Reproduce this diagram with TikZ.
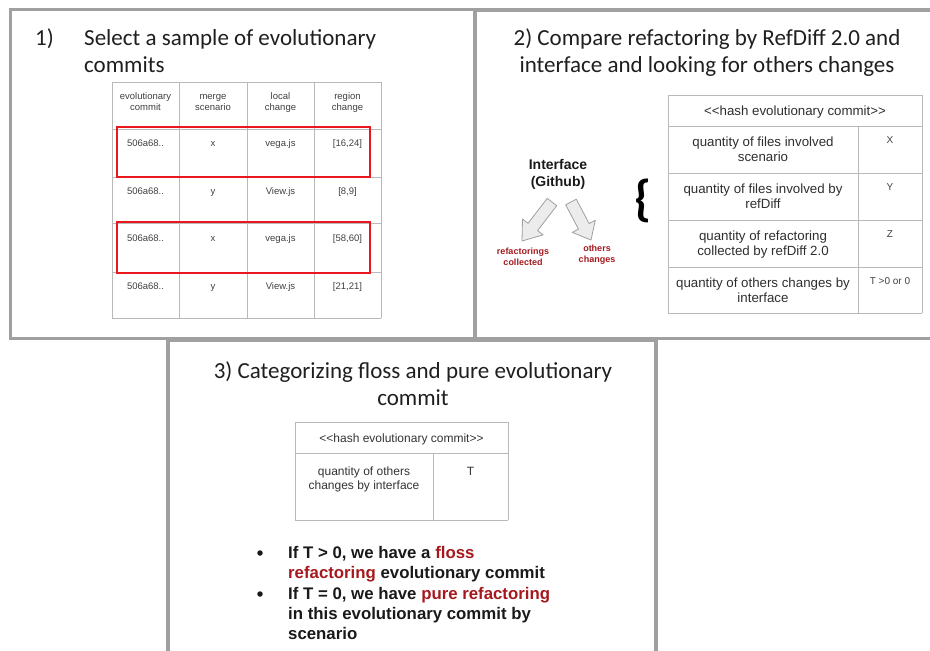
\documentclass[tikz,border=0pt]{standalone}
\usepackage{fontspec}
\setmainfont{Liberation Sans}
\newfontfamily\titlefont{Carlito}
\usepackage{xcolor}
\usetikzlibrary{calc}
\definecolor{panelgray}{RGB}{160,160,160}
\definecolor{gridgray}{RGB}{185,185,185}
\definecolor{pickred}{RGB}{232,24,30}
\definecolor{darkred}{RGB}{165,25,30}
\tikzset{
  panel/.style      = {draw=panelgray, line width=3.5pt},
  grid/.style       = {draw=gridgray, line width=0.9pt},
  pick/.style       = {draw=pickred, line width=2.8pt},
  title/.style      = {inner sep=0pt, text=black!88,
                       font=\titlefont\fontsize{23}{27}\selectfont},
  cell/.style       = {inner sep=0pt, align=center, text=black!75,
                       font=\fontsize{9.5}{11}\selectfont},
  qcell/.style      = {inner sep=0pt, align=center, text=black!82,
                       font=\fontsize{13.3}{15.5}\selectfont},
  vcell/.style      = {inner sep=0pt, text=black!75,
                       font=\fontsize{10}{12}\selectfont},
  scell/.style      = {inner sep=0pt, align=center, text=black!80,
                       font=\fontsize{12}{14}\selectfont},
  redlabel/.style   = {inner sep=0pt, align=center, text=darkred, anchor=north,
                       font=\bfseries\fontsize{9}{11.5}\selectfont},
  bullettext/.style = {inner sep=0pt, align=left, anchor=north west, text=black!90,
                       font=\bfseries\fontsize{16.8}{20.3}\selectfont},
  bulletdot/.style  = {circle, fill=black!90, inner sep=0pt, minimum size=5.5pt},
  blockarrow/.style = {draw=gray!75, fill=gray!15, line width=0.8pt, line join=round},
}
% block arrow from #1 (tail) to #2 (tip)
\newcommand{\blockarr}[2]{%
  \draw[blockarrow] ($(#1)!6pt!90:(#2)$) -- ($(#1)!0.64!(#2)!6pt!90:(#2)$)
    -- ($(#1)!0.64!(#2)!13pt!90:(#2)$) -- (#2)
    -- ($(#1)!0.64!(#2)!13pt!-90:(#2)$) -- ($(#1)!0.64!(#2)!6pt!-90:(#2)$)
    -- ($(#1)!6pt!-90:(#2)$) -- cycle;}

\begin{document}
\begin{tikzpicture}[x=1pt, y=-1pt]

    \useasboundingbox (0,0) rectangle (930,651);
    \clip (0,0) rectangle (930,651);

    % --- PANEL FRAMES ---
    \draw[panel] (10.5,9.5) rectangle (475,338.5);
    \draw[panel] (475,10) -- (940,10);
    \draw[panel] (475,338.5) -- (940,338.5);
    \draw[panel] (168,660) -- (168,340.5) -- (656,340.5) -- (656,660);

    % --- PANEL 1: SAMPLE OF COMMITS ---
    \node[title, anchor=base west] (num1) at (35,45) {1)};
    \node[title, anchor=base west] (title1a) at (84,45) {Select a sample of evolutionary};
    \node[title, anchor=base west] (title1b) at (84,72) {commits};

    % table grid
    \foreach \x in {112,179,247,314,381}
        \draw[grid] (\x,82) -- (\x,318);
    \foreach \y in {82,129,177,223,272,318}
        \draw[grid] (112,\y) -- (381,\y);

    % header row
    \foreach \x/\txt [count=\c] in {145.5/{evolutionary\\commit}, 213/{merge\\scenario},
                                   280.5/{local\\change}, 347.5/{region\\change}}
        \node[cell, anchor=north] (head\c) at (\x,91.8) {\strut\txt};

    % commit rows
    \foreach \y/\sc/\fl/\rg [count=\r] in {146.5/x/vega.js/{[16,24]}, 194.5/y/View.js/{[8,9]},
                                          241.5/x/vega.js/{[58,60]}, 289.5/y/View.js/{[21,21]}} {
        \node[cell, anchor=base] (hash\r) at (145.5,\y) {506a68..};
        \node[cell, anchor=base] (scen\r) at (213,\y) {\sc};
        \node[cell, anchor=base] (file\r) at (280.5,\y) {\fl};
        \node[cell, anchor=base] (regn\r) at (347.5,\y) {\rg};
    }

    % selected rows
    \draw[pick] (117,127) rectangle (370,177);
    \draw[pick] (117,222) rectangle (370,273);

    % --- PANEL 2: COMPARE REFACTORING ---
    \node[title, anchor=base] (title2a) at (707,45) {2) Compare refactoring by RefDiff 2.0 and};
    \node[title, anchor=base] (title2b) at (707,72) {interface and looking for others changes};

    \node[inner sep=0pt, align=center, anchor=north, text=black!90,
          font=\bfseries\fontsize{14}{17}\selectfont] (iface) at (558,158.8) {Interface\\(Github)};

    \node[redlabel] (collected) at (523,247.5) {refactorings\\collected};
    \node[redlabel] (others) at (597,244.5) {others\\changes};

    \coordinate (arrL-tail) at (552,202);
    \coordinate (arrL-tip)  at (522,241);
    \coordinate (arrR-tail) at (571,202);
    \coordinate (arrR-tip)  at (591,240);
    \blockarr{arrL-tail}{arrL-tip}
    \blockarr{arrR-tail}{arrR-tip}

    \node[inner sep=0pt, font=\titlefont\bfseries\fontsize{50}{50}\selectfont] (brace) at (643,201) {\{};

    % table grid
    \foreach \y in {95,126,173,220,267,313}
        \draw[grid] (668,\y) -- (922,\y);
    \draw[grid] (668,95) -- (668,313);
    \draw[grid] (922,95) -- (922,313);
    \draw[grid] (858,126) -- (858,313);

    \node[qcell, anchor=base] (hash2) at (795,115.3) {<\kern0pt<hash evolutionary commit>\kern0pt>};
    \foreach \t/\txt/\val [count=\r] in {126/{quantity of files involved\\scenario}/X,
                                        173/{quantity of files involved by\\refDiff}/Y,
                                        220/{quantity of refactoring\\collected by refDiff 2.0}/Z,
                                        267/{quantity of others changes by\\interface}/{T >0 or 0}} {
        \node[qcell, anchor=north] (qty\r) at (763,\t+10.3) {\txt};
        \node[vcell, anchor=base] (val\r) at (890,\t+17.5) {\val};
    }

    % --- PANEL 3: CATEGORIZING ---
    \node[title, anchor=base] (title3a) at (413,378) {3) Categorizing floss and pure evolutionary};
    \node[title, anchor=base] (title3b) at (413,405) {commit};

    % table grid
    \foreach \y in {422,453,520}
        \draw[grid] (295,\y) -- (508,\y);
    \draw[grid] (295,422) -- (295,520);
    \draw[grid] (508,422) -- (508,520);
    \draw[grid] (433,453) -- (433,520);

    \node[scell, anchor=base] (hash3) at (401.5,442.3) {<\kern0pt<hash evolutionary commit>\kern0pt>};
    \node[scell, anchor=north] (others3) at (364,466.2) {quantity of others\\changes by interface};
    \node[scell, anchor=base] (tval) at (470.5,475.3) {T};

    % bullets
    \node[bulletdot] (bul1) at (260,553) {};
    \node[bullettext] (item1) at (288,545.7)
        {If T > 0, we have a \textcolor{darkred}{floss}\\\textcolor{darkred}{refactoring} evolutionary commit};
    \node[bulletdot] (bul2) at (260,594) {};
    \node[bullettext] (item2) at (288,586.7)
        {If T = 0, we have \textcolor{darkred}{pure refactoring}\\in this evolutionary commit by\\scenario};

\end{tikzpicture}
\end{document}
